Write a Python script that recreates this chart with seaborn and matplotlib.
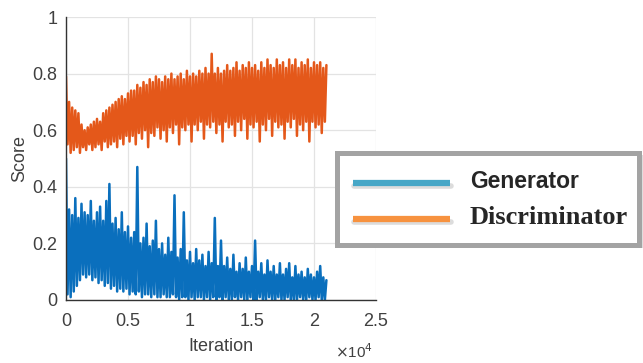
import matplotlib.pyplot as plt
import numpy as np
import pandas as pd
import seaborn as sns
from matplotlib.lines import Line2D
from matplotlib.patches import Rectangle

sns.set_style("white")
plt.rcParams["font.family"] = ["Liberation Sans", "DejaVu Sans"]

# sampled every 250 iterations: upper and lower edge of the noisy band
step = 250
disc_hi = [0.79, 0.70, 0.68, 0.67, 0.66, 0.62, 0.60, 0.61, 0.62, 0.63,
           0.64, 0.63, 0.66, 0.67, 0.68, 0.69, 0.70, 0.71, 0.72, 0.71,
           0.73, 0.74, 0.74, 0.76, 0.75, 0.77, 0.76, 0.78, 0.77, 0.79,
           0.78, 0.77, 0.79, 0.78, 0.80, 0.78, 0.79, 0.80, 0.78, 0.81,
           0.79, 0.80, 0.79, 0.81, 0.80, 0.82, 0.80, 0.87, 0.80, 0.82,
           0.80, 0.81, 0.83, 0.81, 0.82, 0.84, 0.81, 0.83, 0.82, 0.84,
           0.82, 0.83, 0.81, 0.84, 0.82, 0.85, 0.83, 0.82, 0.85, 0.83,
           0.84, 0.82, 0.85, 0.83, 0.85, 0.82, 0.84, 0.83, 0.85, 0.82,
           0.84, 0.83, 0.84, 0.82, 0.83]
disc_lo = [0.55, 0.52, 0.53, 0.54, 0.52, 0.54, 0.53, 0.55, 0.53, 0.54,
           0.55, 0.53, 0.56, 0.54, 0.55, 0.56, 0.54, 0.57, 0.55, 0.58,
           0.56, 0.58, 0.55, 0.59, 0.57, 0.60, 0.54, 0.59, 0.58, 0.61,
           0.57, 0.60, 0.56, 0.61, 0.59, 0.62, 0.55, 0.61, 0.60, 0.62,
           0.56, 0.62, 0.60, 0.63, 0.57, 0.62, 0.61, 0.63, 0.59, 0.62,
           0.56, 0.63, 0.61, 0.62, 0.58, 0.63, 0.60, 0.64, 0.57, 0.62,
           0.61, 0.63, 0.56, 0.62, 0.60, 0.64, 0.58, 0.63, 0.61, 0.62,
           0.57, 0.63, 0.61, 0.64, 0.58, 0.62, 0.60, 0.63, 0.56, 0.63,
           0.61, 0.62, 0.59, 0.63, 0.57]
gen_hi = [0.50, 0.32, 0.30, 0.36, 0.29, 0.34, 0.31, 0.30, 0.35, 0.28,
          0.31, 0.33, 0.28, 0.35, 0.41, 0.27, 0.29, 0.25, 0.31, 0.24,
          0.26, 0.22, 0.24, 0.47, 0.20, 0.22, 0.27, 0.19, 0.21, 0.28,
          0.18, 0.20, 0.16, 0.22, 0.17, 0.37, 0.15, 0.18, 0.31, 0.14,
          0.17, 0.13, 0.18, 0.14, 0.16, 0.12, 0.17, 0.13, 0.29, 0.12,
          0.21, 0.12, 0.15, 0.11, 0.16, 0.10, 0.13, 0.11, 0.15, 0.10,
          0.12, 0.21, 0.10, 0.13, 0.09, 0.14, 0.10, 0.12, 0.09, 0.13,
          0.09, 0.11, 0.13, 0.08, 0.12, 0.09, 0.10, 0.08, 0.11, 0.09,
          0.08, 0.10, 0.12, 0.08, 0.07]
gen_lo = [0.02, 0.01, 0.03, 0.05, 0.07, 0.09, 0.08, 0.09, 0.07, 0.08,
          0.06, 0.07, 0.05, 0.06, 0.04, 0.05, 0.03, 0.04, 0.03, 0.04,
          0.02, 0.03, 0.02, 0.03, 0.01, 0.02, 0.02, 0.01, 0.02, 0.01,
          0.01, 0.02, 0.01, 0.01, 0.02, 0.01, 0.00, 0.01, 0.01, 0.00,
          0.01, 0.00, 0.01, 0.01, 0.00, 0.01, 0.00, 0.01, 0.00, 0.01,
          0.00, 0.01, 0.00, 0.00, 0.01, 0.00, 0.01, 0.00, 0.00, 0.01,
          0.00, 0.00, 0.01, 0.00, 0.00, 0.01, 0.00, 0.00, 0.01, 0.00,
          0.00, 0.01, 0.00, 0.00, 0.00, 0.01, 0.00, 0.00, 0.01, 0.00,
          0.00, 0.01, 0.00, 0.00, 0.00]

xticks = [0, 5000, 10000, 15000, 20000, 25000]
xtick_labels = ["0", "0.5", "1", "1.5", "2", "2.5"]
yticks = [0, 0.2, 0.4, 0.6, 0.8, 1.0]
ytick_labels = ["0", "0.2", "0.4", "0.6", "0.8", "1"]


def band(name, hi, lo):
    # alternate top / bottom samples so the line fills the band
    vals = np.column_stack([hi, lo]).ravel()[:-1]
    iters = np.arange(len(vals)) * step / 2
    return pd.DataFrame({"Iteration": iters, "Score": vals, "Series": name})


df = pd.concat([band("Discriminator", disc_hi, disc_lo),
                band("Generator", gen_hi, gen_lo)], ignore_index=True)

fig = plt.figure(figsize=(6.43, 3.63), dpi=100)
ax = fig.add_axes([66 / 643, 1 - 300 / 363, 310 / 643, 283 / 363])

sns.lineplot(data=df, x="Iteration", y="Score", hue="Series",
             palette={"Discriminator": "#e4581a", "Generator": "#0a6fbd"},
             estimator=None, sort=False, lw=1.8, legend=False, ax=ax)

ax.set_xlim(0, 25000)
ax.set_ylim(0, 1)
ax.set_xticks(xticks, xtick_labels)
ax.set_yticks(yticks, ytick_labels)
ax.tick_params(length=0, labelsize=13, labelcolor="#404040")
ax.tick_params(axis="x", pad=9)
ax.tick_params(axis="y", pad=6)
ax.grid(True, color="#e3e3e3", lw=0.9)
ax.set_axisbelow(True)
for s in ["top", "right"]:
    ax.spines[s].set_visible(False)
for s in ["left", "bottom"]:
    ax.spines[s].set_color("#333333")
    ax.spines[s].set_linewidth(1.0)
ax.set_xlabel("Iteration", fontsize=13, color="#404040", labelpad=6)
ax.set_ylabel("Score", fontsize=13, color="#404040", labelpad=3)
fig.text(335 / 643, 1 - 352 / 363, r"$\times$10$^4$", fontsize=11,
         color="#404040", va="center")

# custom framed legend on the right
fig.patches.append(Rectangle((340 / 643, 1 - 248 / 363), 303 / 643, 93 / 363,
                             transform=fig.transFigure, facecolor="#dddddd",
                             edgecolor="none", zorder=1))
fig.patches.append(Rectangle((337 / 643, 1 - 245 / 363), 302 / 643, 92 / 363,
                             transform=fig.transFigure, facecolor="white",
                             edgecolor="#a3a3a3", lw=3.6, zorder=2))
for y, c in [(183, "#47a7c7"), (219, "#f7923f")]:
    fig.lines.append(Line2D([354 / 643, 451 / 643], [1 - (y + 3) / 363] * 2,
                            transform=fig.transFigure, color="#dcdcdc",
                            lw=4, zorder=3))
    fig.lines.append(Line2D([353 / 643, 450 / 643], [1 - y / 363] * 2,
                            transform=fig.transFigure, color=c,
                            lw=4.5, solid_capstyle="butt", zorder=4))
fig.text(470 / 643, 1 - 182 / 363, "Generator", fontsize=16.5,
         fontweight="bold", family="Liberation Sans", va="center", zorder=5)
fig.text(470 / 643, 1 - 218 / 363, "Discriminator", fontsize=19,
         fontweight="bold", family="Liberation Serif", va="center", zorder=5)

fig.savefig("out.png", dpi=100)
